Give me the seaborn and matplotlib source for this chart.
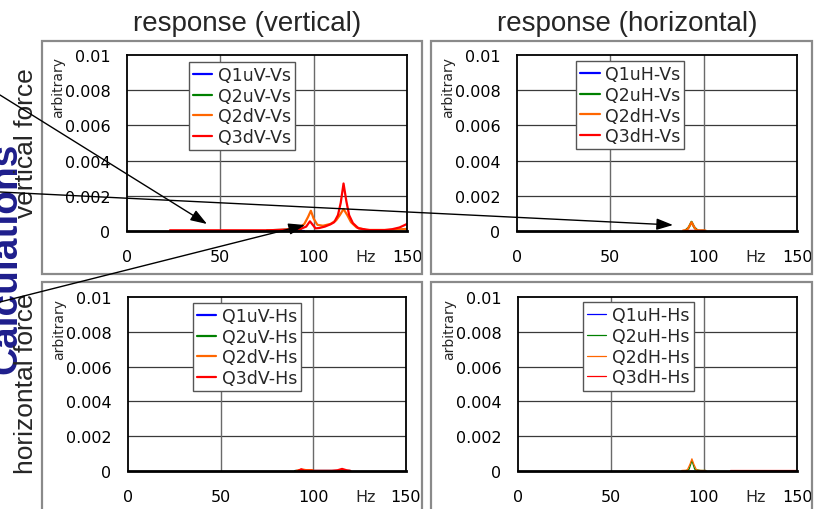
import numpy as np
import pandas as pd
import matplotlib
matplotlib.use("Agg")
import matplotlib.pyplot as plt
from matplotlib.patches import Rectangle
import seaborn as sns

sns.set_style("white")
plt.rcParams['font.family'] = ['DejaVu Sans']

# ---- data (frequency in Hz, response in arbitrary units) ----
series_colors = {'Q1': '#0000ff', 'Q2u': '#008000', 'Q2d': '#ff6600', 'Q3': '#ff0000'}

# top left: vertical response to vertical force
vv_q1_hz = [75, 85, 95]
vv_q1 = [0.00001, 0.00001, 0.00001]
vv_q2u_hz = [75, 78, 82, 86, 90, 93]
vv_q2u = [0.00002, 0.00005, 0.00006, 0.00007, 0.00008, 0.00009]
vv_q2d_hz = [75, 85, 92, 95, 97, 98.5, 100, 102, 105, 109, 112, 114, 116, 118, 120, 123, 128, 140, 150]
vv_q2d = [0.00003, 0.00006, 0.00015, 0.0004, 0.0008, 0.00115, 0.0007, 0.00035, 0.0003, 0.0004,
          0.0006, 0.0009, 0.00125, 0.0009, 0.0005, 0.0002, 0.00006, 0.00006, 0.00012]
vv_q3_hz = [23, 40, 60, 76, 93, 96, 98, 99.5, 101, 103, 106, 109, 111, 113, 114.5, 116, 117.5,
            119, 121, 124, 130, 138, 142, 146, 150]
vv_q3 = [0.00004, 0.00004, 0.00004, 0.00004, 0.00012, 0.00025, 0.00055, 0.00035, 0.00015, 0.00017,
         0.00025, 0.00038, 0.0005, 0.0009, 0.0016, 0.0027, 0.0017, 0.0009, 0.00045, 0.00015,
         0.00005, 0.00005, 0.0001, 0.0002, 0.0004]

# top right: horizontal response to vertical force
hv_q1_hz = [90, 100]
hv_q1 = [0.00001, 0.00001]
hv_q2u_hz = [90, 92, 93.5, 95, 97, 100]
hv_q2u = [0.00001, 0.0002, 0.00052, 0.0002, 0.00001, 0.00001]
hv_q2d_hz = [89, 91, 92.5, 93.5, 94.5, 96, 98, 101]
hv_q2d = [0.00003, 0.00005, 0.0003, 0.0005, 0.0003, 0.00005, 0.00003, 0.00003]
hv_q3_hz = [90, 100]
hv_q3 = [0.00002, 0.00002]

# bottom left: vertical response to horizontal force
vh_q1_hz = [90, 120]
vh_q1 = [0.00001, 0.00001]
vh_q2u_hz = [90, 120]
vh_q2u = [0.00001, 0.00001]
vh_q2d_hz = [91, 93, 94.5, 96, 99.5]
vh_q2d = [0.00002, 0.00006, 0.00008, 0.00005, 0.00005]
vh_q3_hz = [92, 93.5, 95, 100, 110, 113, 115.5, 118, 120]
vh_q3 = [0.00002, 0.0001, 0.00002, 0.00001, 0.00001, 0.00004, 0.00012, 0.00004, 0.00001]

# bottom right: horizontal response to horizontal force
hh_q1_hz = [90, 100]
hh_q1 = [0.00001, 0.00001]
hh_q2u_hz = [90, 92, 93.5, 95, 98, 101]
hh_q2u = [0.00001, 0.0001, 0.0006, 0.0001, 0.00003, 0.00003]
hh_q2d_hz = [88, 91, 92.5, 93.5, 94.5, 96, 99, 101]
hh_q2d = [0.00003, 0.00005, 0.0004, 0.0007, 0.0004, 0.00005, 0.00003, 0.00003]
hh_q3_hz = [114, 130, 150]
hh_q3 = [0.00007, 0.00007, 0.00007]

x_ticks = [0, 50, 100, 150]
y_ticks = [0, 0.002, 0.004, 0.006, 0.008, 0.01]
y_tick_labels = ['0', '0.002', '0.004', '0.006', '0.008', '0.01']


def make_df(parts, names):
    rows = []
    for (hz, val), name in zip(parts, names):
        rows.append(pd.DataFrame({'Hz': hz, 'value': val, 'series': name}))
    return pd.concat(rows, ignore_index=True)


panels = [
    ('tl', make_df([(vv_q1_hz, vv_q1), (vv_q2u_hz, vv_q2u), (vv_q2d_hz, vv_q2d), (vv_q3_hz, vv_q3)],
                   ['Q1uV-Vs', 'Q2uV-Vs', 'Q2dV-Vs', 'Q3dV-Vs'])),
    ('tr', make_df([(hv_q1_hz, hv_q1), (hv_q2u_hz, hv_q2u), (hv_q2d_hz, hv_q2d), (hv_q3_hz, hv_q3)],
                   ['Q1uH-Vs', 'Q2uH-Vs', 'Q2dH-Vs', 'Q3dH-Vs'])),
    ('bl', make_df([(vh_q1_hz, vh_q1), (vh_q2u_hz, vh_q2u), (vh_q2d_hz, vh_q2d), (vh_q3_hz, vh_q3)],
                   ['Q1uV-Hs', 'Q2uV-Hs', 'Q2dV-Hs', 'Q3dV-Hs'])),
    ('br', make_df([(hh_q1_hz, hh_q1), (hh_q2u_hz, hh_q2u), (hh_q2d_hz, hh_q2d), (hh_q3_hz, hh_q3)],
                   ['Q1uH-Hs', 'Q2uH-Hs', 'Q2dH-Hs', 'Q3dH-Hs'])),
]

W, H = 815, 510
fig = plt.figure(figsize=(W / 100, H / 100), dpi=100)


def px_rect(x0, y0, x1, y1):
    # image pixel box -> figure fraction [left, bottom, width, height]
    return [x0 / W, 1 - y1 / H, (x1 - x0) / W, (y1 - y0) / H]


# outer chart boxes
for box in [(42, 42, 422, 275), (431, 42, 812, 275), (42, 283, 422, 520), (431, 283, 812, 520)]:
    l, b, w, h = px_rect(*box)
    fig.add_artist(Rectangle((l, b), w, h, transform=fig.transFigure, fill=False,
                             edgecolor='#8a8a8a', linewidth=1.6))

plot_boxes = {'tl': (127, 56, 407, 232), 'tr': (517, 56, 797, 232),
              'bl': (128, 298, 406, 472), 'br': (518, 298, 797, 472)}
legend_pos = {'tl': (0.221, 0.962), 'tr': (0.211, 0.966), 'bl': (0.234, 0.966), 'br': (0.233, 0.971)}

for key, df in panels:
    ax = fig.add_axes(px_rect(*plot_boxes[key]))
    names = list(df['series'].unique())
    pal = dict(zip(names, series_colors.values()))
    lw = 0.9 if key == 'br' else 1.6
    sns.lineplot(data=df, x='Hz', y='value', hue='series', palette=pal, estimator=None,
                 sort=False, linewidth=lw, ax=ax)
    ax.set_xlim(0, 150)
    ax.set_ylim(0, 0.01)
    ax.set_xticks(x_ticks)
    ax.set_xticklabels([str(t) for t in x_ticks])
    ax.set_yticks(y_ticks)
    ax.set_yticklabels(y_tick_labels)
    ax.tick_params(length=0, labelsize=11.5, colors='black')
    ax.tick_params(axis='x', pad=13)
    ax.tick_params(axis='y', pad=12)
    ax.set_xlabel('')
    ax.set_ylabel('')
    for y in y_ticks[1:-1]:
        ax.axhline(y, color='#3a3a3a', linewidth=0.9, zorder=0.5)
    for x in x_ticks[1:-1]:
        ax.axvline(x, color='#6a6a6a', linewidth=1.0, zorder=0.5)
    for side in ['left', 'right', 'top']:
        ax.spines[side].set_color('black')
        ax.spines[side].set_linewidth(1.3)
    ax.spines['bottom'].set_color('black')
    ax.spines['bottom'].set_linewidth(2.0)
    ax.annotate('Hz', xy=(0.853, 0), xycoords='axes fraction', xytext=(0, -13),
                textcoords='offset points', ha='center', va='top', fontsize=11.5)
    ax.text(-0.246, 0.82, 'arbitrary', transform=ax.transAxes, rotation=90,
            ha='center', va='center', fontsize=10)
    handles, labels = ax.get_legend_handles_labels()
    leg = ax.legend(handles, labels, loc='upper left', bbox_to_anchor=legend_pos[key],
                    fontsize=12.5, frameon=True, fancybox=False, framealpha=1,
                    edgecolor='#555555', borderpad=0.25, handlelength=1.1,
                    handletextpad=0.3, labelspacing=0.15, borderaxespad=0)
    leg.get_frame().set_linewidth(1.0)
    for line in leg.get_lines():
        line.set_linewidth(lw)

# overlay in image pixel coordinates for titles, side labels and arrows
ov = fig.add_axes([0, 0, 1, 1], zorder=10)
ov.set_xlim(0, W)
ov.set_ylim(H, 0)
ov.axis('off')
ov.patch.set_alpha(0)

ov.text(247, 31, 'response (vertical)', ha='center', va='baseline', fontsize=20,
        family='Liberation Sans')
ov.text(627, 31, 'response (horizontal)', ha='center', va='baseline', fontsize=20,
        family='Liberation Sans')
ov.text(33, 143, 'vertical force', rotation=90, rotation_mode='anchor', ha='center',
        va='baseline', fontsize=19, family='Liberation Sans')
ov.text(33, 384, 'horizontal force', rotation=90, rotation_mode='anchor', ha='center',
        va='baseline', fontsize=19, family='Liberation Sans')
# title of the slide, mostly cut off at the left edge as in the reference
ov.text(16, 258, 'Calculations', rotation=90, rotation_mode='anchor', ha='center',
        va='baseline', fontsize=28, fontweight='bold', color='#1e1e8c',
        family='Liberation Sans', zorder=1)

arrow_kw = dict(arrowstyle='-|>,head_length=1.0,head_width=0.35', color='black',
                lw=1.0, mutation_scale=10, shrinkA=0, shrinkB=0)
for start, tip in [((0, 96), (207, 225)), ((0, 193), (673, 226)), ((0, 303), (305, 226))]:
    ov.annotate('', xy=tip, xytext=start, xycoords='data', textcoords='data',
                arrowprops=arrow_kw, annotation_clip=False)

fig.savefig('out.png', dpi=100)
